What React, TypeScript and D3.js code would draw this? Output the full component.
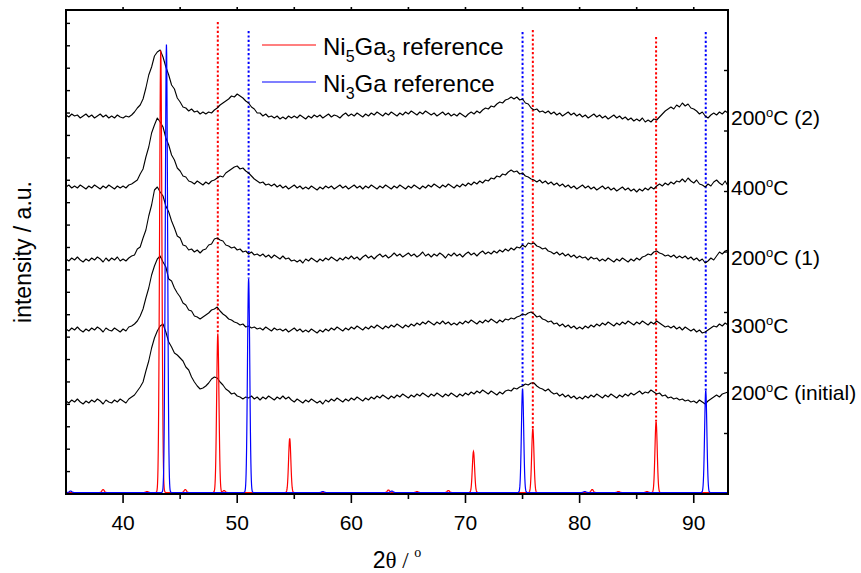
import React from "react";
import * as d3 from "d3";

const WIDTH = 861;
const HEIGHT = 573;

// 2θ sampling grid of the measured patterns (0.25° steps, 35° – 93°)
const twoTheta: number[] = d3.range(0, 233).map((i) => 35 + i * 0.25);

const curve200second = [
  379,377,380,378, 379,376,378,380, 377,379,376,378, 380,377,379,376,
  378,376,379,377, 376,378,377,379, 382,386,389,395, 406,419,427,438,
  442,444,437,427, 419,409,405,396, 392,387,386,383, 385,382,383,380,
  382,380,382,381, 384,386,389,391, 393,395,398,397, 400,398,396,393,
  391,387,385,381, 381,378,380,377, 378,376,378,375, 377,375,378,376,
  378,376,379,377, 375,378,376,379, 377,379,376,378, 380,377,379,378,
  376,379,381,378, 380,378,381,379, 377,380,378,381, 379,382,380,378,
  381,379,382,380, 378,381,379,382, 380,383,381,379, 382,380,383,381,
  379,381,378,380, 382,379,381,378, 380,378,381,379, 377,380,382,380,
  383,381,384,386, 385,388,387,390, 392,391,394,395, 397,395,397,394,
  395,391,390,386, 384,385,382,383, 381,383,380,382, 379,381,378,380,
  382,379,381,378, 380,377,379,376, 378,380,377,379, 376,378,375,377,
  379,376,378,375, 377,374,376,373, 375,373,376,372, 374,372,375,374,
  377,380,383,385, 387,385,389,387, 391,388,390,386, 385,383,380,382,
  378,376,379,381, 379,382,380,383, 381,
];

const curve400 = [
  307,309,306,308, 306,309,307,305, 308,306,309,307, 305,308,306,309,
  307,305,308,306, 308,306,309,310, 312,314,320,325, 337,347,361,369,
  376,372,367,356, 349,339,334,326, 323,318,317,313, 312,310,313,311,
  309,312,310,313, 314,316,318,317, 321,323,325,327, 328,325,326,323,
  321,318,315,313, 311,312,309,310, 308,310,307,309, 306,308,305,307,
  309,306,308,305, 307,305,308,306, 304,307,305,308, 306,308,305,307,
  309,306,308,305, 307,309,306,308, 305,308,306,309, 307,305,308,306,
  309,307,305,308, 306,309,307,305, 308,306,309,307, 305,308,306,309,
  307,310,308,306, 309,307,310,308, 306,309,307,310, 308,311,309,312,
  310,313,311,314, 313,316,315,318, 317,320,319,322, 324,322,323,320,
  321,318,317,315, 314,312,314,311, 313,310,312,309, 311,308,310,307,
  309,306,308,305, 307,309,306,308, 305,307,304,306, 308,305,307,304,
  306,303,305,307, 304,306,303,305, 302,305,303,306, 304,307,305,308,
  310,308,311,309, 312,310,313,312, 315,312,316,313, 311,314,310,309,
  307,310,308,312, 314,311,309,313, 308,
];

const curve200first = [
  235,233,236,234, 237,234,232,235, 233,236,234,237, 235,232,236,233,
  236,234,237,233, 235,233,236,238, 239,245,247,256, 264,278,289,304,
  307,302,298,288, 282,273,266,258, 256,249,248,244, 245,242,244,241,
  244,245,249,250, 255,256,254,253, 249,248,246,247, 244,245,242,243,
  240,242,239,240, 238,240,237,239, 236,239,237,235, 238,235,236,233,
  234,232,234,231, 235,233,236,234, 232,235,233,236, 234,237,235,233,
  236,234,237,235, 238,235,237,234, 237,239,236,238, 235,238,240,237,
  239,236,238,241, 238,240,237,239, 241,238,240,237, 239,242,238,240,
  237,240,238,241, 239,236,240,238, 241,238,240,237, 240,242,239,241,
  238,241,243,240, 242,240,243,241, 244,242,245,243, 246,244,247,246,
  249,247,251,250, 251,248,247,245, 246,243,242,240, 242,239,241,238,
  240,237,239,236, 238,236,237,234, 237,235,236,233, 235,233,236,234,
  232,235,233,236, 234,232,235,233, 236,234,237,238, 240,239,242,243,
  241,240,238,239, 237,239,236,238, 236,238,235,237, 234,236,233,235,
  231,233,236,234, 238,242,240,243, 244,
];

const curve300 = [
  165,163,166,164, 167,164,162,165, 163,166,164,167, 165,162,166,164,
  163,166,164,162, 165,163,167,168, 170,173,178,185, 196,206,219,228,
  235,238,232,227, 215,213,206,201, 197,191,189,184, 183,178,177,175,
  177,179,181,184, 185,187,183,180, 178,175,174,172, 171,169,170,167,
  168,166,167,165, 166,164,167,165, 163,166,164,165, 163,165,162,164,
  166,163,165,162, 164,162,165,163, 161,164,162,165, 163,166,164,167,
  165,163,166,164, 167,165,168,166, 164,167,165,168, 166,169,167,165,
  168,166,169,167, 170,168,166,169, 167,170,168,171, 169,172,170,173,
  171,169,172,170, 173,170,172,169, 171,169,172,170, 173,171,174,172,
  170,173,171,174, 172,175,173,171, 174,172,175,174, 176,175,177,178,
  180,179,181,182, 180,177,178,175, 174,172,173,170, 171,168,170,167,
  169,166,168,165, 167,165,168,166, 169,167,170,168, 171,169,172,170,
  168,171,169,172, 170,173,171,169, 172,170,173,171, 169,172,170,173,
  171,169,167,168, 166,168,165,167, 164,167,165,163, 165,162,164,161,
  162,164,166,168, 167,170,168,171, 169,
];

const curve200initial = [
  93,91,94,92, 95,92,90,93, 91,94,92,95, 93,90,94,92,
  91,94,92,95, 93,91,95,97, 99,103,107,112, 123,133,146,156,
  163,168,170,162, 152,147,141,139, 136,133,127,124, 117,112,108,105,
  106,108,111,115, 117,116,112,109, 105,103,100,101, 98,97,95,97,
  96,98,95,97, 94,97,95,98, 96,94,97,95, 98,95,97,94,
  92,95,93,91, 94,92,95,93, 91,93,90,94, 92,95,93,96,
  94,92,95,93, 96,94,97,95, 93,96,94,97, 95,98,96,99,
  97,95,98,96, 99,97,100,98, 96,99,97,100, 98,101,99,97,
  100,98,101,99, 97,100,98,101, 99,97,100,98, 101,99,102,100,
  103,101,104,102, 100,103,101,99, 102,100,103,104, 103,106,105,107,
  108,110,109,111, 111,108,106,105, 103,105,102,100, 101,98,100,97,
  99,96,98,95, 97,95,98,96, 99,97,100,98, 96,99,97,100,
  98,96,99,97, 100,98,101,99, 101,103,100,102, 101,104,102,100,
  101,98,99,96, 97,95,96,94, 95,93,94,92, 93,91,94,92,
  90,93,95,97, 99,97,100,101, 102,
];

const sampleSeries = [curve200second, curve400, curve200first, curve300, curve200initial];
const sampleTemps = ["200", "400", "200", "300", "200"];
const sampleNotes = [" (2)", "", " (1)", "", " (initial)"];
const sampleLabelLevels = [377, 307, 237, 169, 102];

// reference stick patterns: [2θ, height]
const ni5ga3Peaks: [number, number][] = [
  [38.25, 3], [42.1, 1], [43.3, 442], [45.45, 3], [48.3, 159], [48.85, 2],
  [54.6, 54], [63.25, 2.5], [65.75, 1], [68.5, 2], [70.7, 41], [75.9, 64],
  [81.1, 3], [83.4, 1], [85.9, 1], [86.7, 71],
];
const ni3gaPeaks: [number, number][] = [
  [35.4, 1.5], [43.8, 448], [51.0, 214], [57.5, 1], [63.55, 1.5],
  [75.0, 104], [80.45, 1], [91.05, 102],
];
const referenceBase = 1.5;

// dotted guide lines: position and top level
const ni5ga3Guides = [48.3, 75.9, 86.7];
const ni5ga3GuideTops = [472, 464, 457];
const ni3gaGuides = [51.0, 75.0, 91.05];
const ni3gaGuideTops = [463, 462, 462];

const xMajorTicks = [40, 50, 60, 70, 80, 90];
const xMinorTicks = [45, 55, 65, 75, 85];
const leftTicks = d3.range(0, 22).map((i) => i * 22.41);
const rightTicks = d3.range(0, 9).map((i) => i * 60.5);

const RED = "#ff0000";
const BLUE = "#0000ff";
const FONT = "'Liberation Sans', Arial, Helvetica, sans-serif";

export default function App() {
  const x = d3.scaleLinear().domain([35, 93]).range([66, 728]);
  const y = d3.scaleLinear().domain([0, 484]).range([494, 10]);

  const sampleLine = d3
    .line<number>()
    .x((_, i) => x(twoTheta[i]))
    .y((d) => y(d));

  const refGrid = d3.range(35, 93.0001, 0.02);
  const sigma = 0.1;
  const profile = (peaks: [number, number][]) =>
    refGrid.map((t) => {
      let v = referenceBase;
      for (const [p, h] of peaks) {
        const dt = t - p;
        if (Math.abs(dt) < 0.6) v += h * Math.exp(-(dt * dt) / (2 * sigma * sigma));
      }
      return [t, v] as [number, number];
    });
  const refLine = d3
    .line<[number, number]>()
    .x((d) => x(d[0]))
    .y((d) => y(d[1]));

  const peakTop = (peaks: [number, number][], pos: number) => {
    const pk = peaks.find((p) => Math.abs(p[0] - pos) < 0.05);
    return referenceBase + (pk ? pk[1] : 0);
  };

  const [x0, x1] = x.range();
  const [yb, yt] = y.range();

  return (
    <svg
      width={WIDTH}
      height={HEIGHT}
      style={{ position: "absolute", left: 0, top: 0, background: "#fff" }}
      fontFamily={FONT}
    >
      <rect x={0} y={0} width={WIDTH} height={HEIGHT} fill="#fff" />

      {/* dotted guides */}
      {ni5ga3Guides.map((g, i) => (
        <line
          key={"rg" + i}
          x1={x(g)}
          x2={x(g)}
          y1={y(ni5ga3GuideTops[i])}
          y2={y(peakTop(ni5ga3Peaks, g))}
          stroke={RED}
          strokeWidth={2}
          strokeDasharray="2.2,2.2"
        />
      ))}
      {ni3gaGuides.map((g, i) => (
        <line
          key={"bg" + i}
          x1={x(g)}
          x2={x(g)}
          y1={y(ni3gaGuideTops[i])}
          y2={y(peakTop(ni3gaPeaks, g))}
          stroke={BLUE}
          strokeWidth={2}
          strokeDasharray="2.2,2.2"
        />
      ))}

      {/* measured patterns */}
      {sampleSeries.map((s, i) => (
        <path
          key={"s" + i}
          d={sampleLine(s) || ""}
          fill="none"
          stroke="#000"
          strokeWidth={1.1}
          strokeLinejoin="round"
        />
      ))}

      {/* references */}
      <path d={refLine(profile(ni5ga3Peaks)) || ""} fill="none" stroke={RED} strokeWidth={1.2} />
      <path d={refLine(profile(ni3gaPeaks)) || ""} fill="none" stroke={BLUE} strokeWidth={1.2} />

      {/* frame */}
      <rect x={x0} y={yt} width={x1 - x0} height={yb - yt} fill="none" stroke="#000" strokeWidth={2} />

      {/* bottom / top ticks */}
      {xMajorTicks.map((t) => (
        <g key={"M" + t}>
          <line x1={x(t)} x2={x(t)} y1={yb} y2={yb + 9} stroke="#000" strokeWidth={1.6} />
          <line x1={x(t)} x2={x(t)} y1={yt} y2={yt - 3} stroke="#000" strokeWidth={1.6} />
          <text x={x(t)} y={530} textAnchor="middle" fontSize={21} fill="#000">
            {t}
          </text>
        </g>
      ))}
      {xMinorTicks.map((t) => (
        <g key={"m" + t}>
          <line x1={x(t)} x2={x(t)} y1={yb} y2={yb + 5} stroke="#000" strokeWidth={1.6} />
          <line x1={x(t)} x2={x(t)} y1={yt} y2={yt - 3} stroke="#000" strokeWidth={1.6} />
        </g>
      ))}
      {leftTicks.map((t, i) => (
        <line key={"l" + i} x1={x0} x2={x0 + 4} y1={y(t)} y2={y(t)} stroke="#000" strokeWidth={1.4} />
      ))}
      {rightTicks.map((t, i) => (
        <line key={"r" + i} x1={x1} x2={x1 - 4} y1={y(t)} y2={y(t)} stroke="#000" strokeWidth={1.4} />
      ))}

      {/* sample labels */}
      {sampleTemps.map((tmp, i) => (
        <text key={"lab" + i} x={731} y={y(sampleLabelLevels[i]) + 8} fontSize={21} fill="#000">
          {tmp}
          <tspan fontSize={13} dy={-8}>o</tspan>
          <tspan dy={8}>C{sampleNotes[i]}</tspan>
        </text>
      ))}

      {/* legend */}
      <line x1={262} x2={316} y1={45} y2={45} stroke={RED} strokeWidth={1.2} />
      <text x={323} y={55} fontSize={24} fill="#000">
        Ni<tspan fontSize={16} dy={7}>5</tspan>
        <tspan dy={-7}>Ga</tspan>
        <tspan fontSize={16} dy={7}>3</tspan>
        <tspan dy={-7}> reference</tspan>
      </text>
      <line x1={262} x2={316} y1={82} y2={82} stroke={BLUE} strokeWidth={1.2} />
      <text x={323} y={92} fontSize={24} fill="#000">
        Ni<tspan fontSize={16} dy={7}>3</tspan>
        <tspan dy={-7}>Ga reference</tspan>
      </text>

      {/* axis titles */}
      <text x={397} y={568} textAnchor="middle" fontSize={23} fill="#000">
        2<tspan fontFamily="'Liberation Serif', 'DejaVu Serif', serif">θ / </tspan>
        <tspan fontFamily="'Liberation Serif', 'DejaVu Serif', serif" fontSize={14} dy={-11}>o</tspan>
      </text>
      <text
        transform={`translate(31, ${(yb + yt) / 2}) rotate(-90)`}
        textAnchor="middle"
        fontSize={23}
        fill="#000"
      >
        intensity / a.u.
      </text>
    </svg>
  );
}
